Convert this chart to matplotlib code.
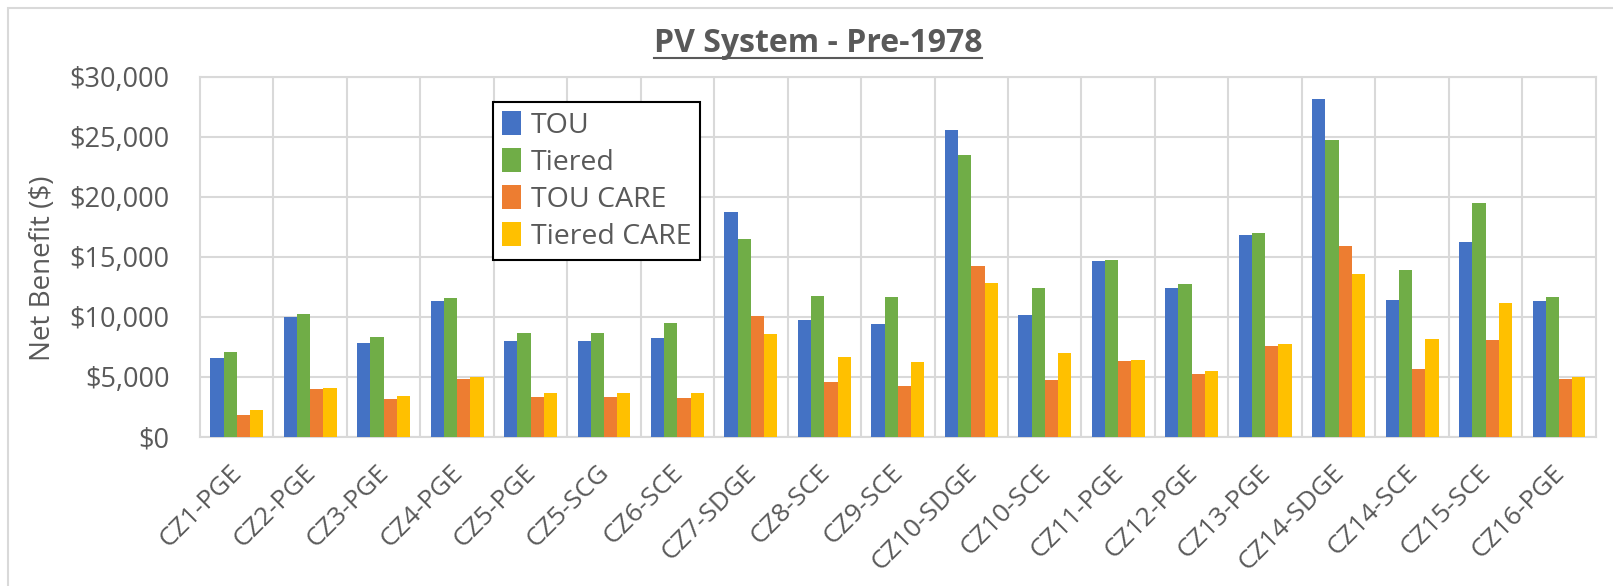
import matplotlib
matplotlib.use("Agg")
import matplotlib.pyplot as plt
import numpy as np
from matplotlib.lines import Line2D
from matplotlib.patches import Rectangle
from matplotlib.ticker import FuncFormatter
from matplotlib.transforms import ScaledTranslation

plt.rcParams['font.family'] = ['Open Sans', 'DejaVu Sans']

# values
categories = ['CZ1-PGE', 'CZ2-PGE', 'CZ3-PGE', 'CZ4-PGE', 'CZ5-PGE', 'CZ5-SCG',
              'CZ6-SCE', 'CZ7-SDGE', 'CZ8-SCE', 'CZ9-SCE', 'CZ10-SDGE', 'CZ10-SCE',
              'CZ11-PGE', 'CZ12-PGE', 'CZ13-PGE', 'CZ14-SDGE', 'CZ14-SCE',
              'CZ15-SCE', 'CZ16-PGE']
tou = [6530, 9940, 7800, 11330, 8000, 8000, 8220, 18700, 9690, 9390, 25530,
       10140, 14610, 12390, 16780, 28110, 11420, 16250, 11330]
tiered = [7030, 10250, 8300, 11530, 8640, 8640, 9500, 16440, 11750, 11640,
          23500, 12390, 14720, 12690, 16970, 24690, 13860, 19440, 11640]
tou_care = [1800, 3940, 3110, 4800, 3300, 3300, 3190, 10030, 4580, 4250, 14190,
            4690, 6280, 5220, 7580, 15920, 5670, 8030, 4810]
tiered_care = [2220, 4060, 3390, 5000, 3610, 3610, 3610, 8530, 6610, 6190,
               12810, 6940, 6390, 5440, 7690, 13560, 8110, 11110, 5000]

series = [('TOU', tou, '#4472C4'),
          ('Tiered', tiered, '#70AD47'),
          ('TOU CARE', tou_care, '#ED7D31'),
          ('Tiered CARE', tiered_care, '#FFC000')]

W, H = 1613, 586
txt = '#595959'
grid_c = '#D9D9D9'

fig = plt.figure(figsize=(W / 100, H / 100), dpi=100)
ax = fig.add_axes([200 / W, 1 - 436.7 / H, (1595.7 - 200) / W, (436.7 - 76.5) / H])

x = np.arange(len(categories))
bw = 0.18
for i, (name, vals, col) in enumerate(series):
    ax.bar(x + (i - 1.5) * bw, vals, bw, color=col, label=name, zorder=3)

ax.set_xlim(-0.5, len(categories) - 0.5)
ax.set_ylim(0, 30000)
ax.set_yticks(np.arange(0, 30001, 5000))
ax.yaxis.set_major_formatter(FuncFormatter(lambda v, p: '${:,.0f}'.format(v)))
ax.set_xticks(x)
ax.set_xticklabels(categories, rotation=45, ha='right', rotation_mode='anchor')
ax.set_xticks(np.arange(0.5, len(categories) - 1, 1), minor=True)
ax.tick_params(axis='both', which='both', length=0, colors=txt)
ax.tick_params(axis='y', labelsize=19.5, pad=22)
ax.tick_params(axis='x', labelsize=19, pad=17)
shift = ScaledTranslation(-7 / 100, 0, fig.dpi_scale_trans)
for lbl in ax.get_xticklabels():
    lbl.set_transform(lbl.get_transform() + shift)
ax.grid(axis='y', which='major', color=grid_c, lw=1.5)
ax.grid(axis='x', which='minor', color=grid_c, lw=1.5)
ax.set_axisbelow(True)
for s in ax.spines.values():
    s.set_color(grid_c)
    s.set_linewidth(1.5)

ax.set_ylabel('Net Benefit ($)', fontsize=20, color=txt)
ax.yaxis.set_label_coords(43 / W, 1 - 268 / H, transform=fig.transFigure)
ax.yaxis.label.set_va('center')

leg = ax.legend(loc='upper left', bbox_to_anchor=(493.3 / W, 1 - 101.7 / H),
                bbox_transform=fig.transFigure, borderaxespad=0, fontsize=20.5,
                fancybox=False, edgecolor='black', framealpha=1,
                handlelength=0.65, handleheight=0.95, handletextpad=0.35,
                labelspacing=0.28, borderpad=0.32)
leg.get_frame().set_linewidth(1.5)
for t in leg.get_texts():
    t.set_color(txt)

title = fig.text(818 / W, 1 - 52 / H, 'PV System - Pre-1978', fontsize=23,
                 fontweight='bold', color=txt, ha='center', va='baseline')

# underline under the title
fig.canvas.draw()
bb = title.get_window_extent()
fig.add_artist(Line2D([bb.x0 / W, bb.x1 / W], [1 - 58 / H, 1 - 58 / H],
                      transform=fig.transFigure, color=txt, lw=1.5))

# chart area border (left and top edges visible)
fig.add_artist(Rectangle((8 / W, -0.1), 1.2, (H - 8) / H + 0.1,
                         transform=fig.transFigure, fill=False,
                         ec=grid_c, lw=1.5))

fig.savefig('out.png', dpi=100)
